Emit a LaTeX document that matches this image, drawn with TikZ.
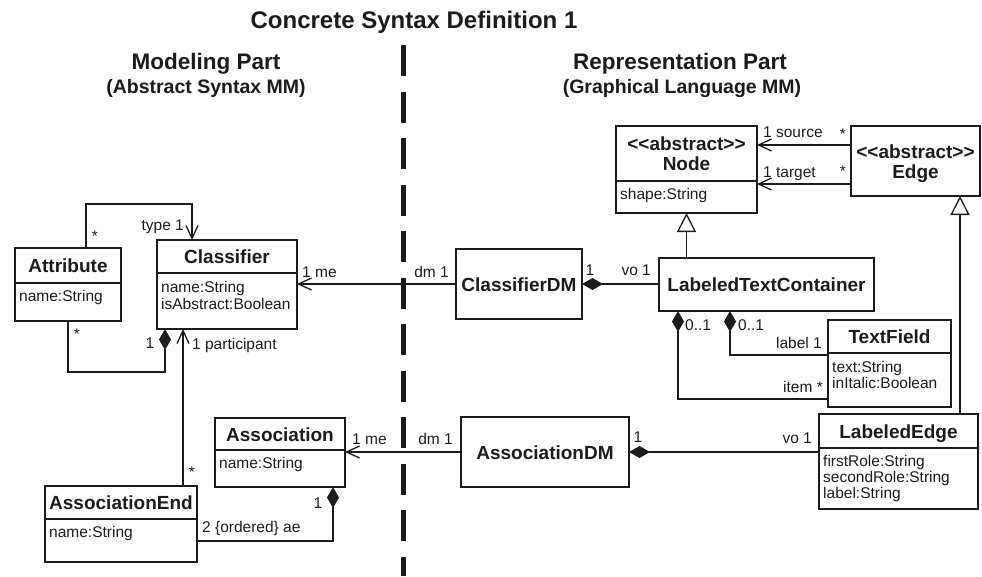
\documentclass[tikz,border=0pt]{standalone}
\usepackage{fontspec}
\setmainfont{Liberation Sans}
\usetikzlibrary{arrows.meta,calc}
\definecolor{ink}{HTML}{1C1C1C}

\tikzset{
  umlbox/.style={draw=ink, line width=1.3pt, anchor=north west, inner sep=0pt, outer sep=0pt},
  divider/.style={draw=ink, line width=1.3pt},
  cname/.style={font=\bfseries\fontsize{19}{21}\selectfont, text=ink, inner sep=0pt, anchor=base},
  attrtxt/.style={font=\fontsize{15.5}{17}\selectfont, text=ink, inner sep=0pt, anchor=base west},
  lbl/.style={font=\fontsize{15.5}{17}\selectfont, text=ink, inner sep=0pt, anchor=base},
  heading/.style={font=\bfseries\fontsize{22.5}{26}\selectfont, text=ink, inner sep=0pt, anchor=base},
  subheading/.style={font=\bfseries\fontsize{19.5}{22}\selectfont, text=ink, inner sep=0pt, anchor=base},
  conn/.style={draw=ink, line width=1.3pt},
  navarrow/.style={conn, -{Straight Barb[length=13pt,width=12pt]}},
  composition/.style={conn, -{Diamond[length=21pt,width=12pt,fill=ink]}},
  inherit/.style={conn, -{Triangle[open,length=19pt,width=19pt,fill=white]}},
}

\begin{document}
\begin{tikzpicture}[x=1pt,y=-1pt]
\useasboundingbox[fill=white] (0,0) rectangle (982,576);

% ---------- titles ----------
\node[font=\bfseries\fontsize{24}{28}\selectfont, text=ink, inner sep=0pt, anchor=base] (title) at (414,28) {Concrete Syntax Definition 1};
\node[heading] (modH) at (206,69) {Modeling Part};
\node[subheading] (modS) at (206,93.5) {(Abstract Syntax MM)};
\node[heading] (repH) at (680,69) {Representation Part};
\node[subheading] (repS) at (682,93.5) {(Graphical Language MM)};

% ---------- separator ----------
\coordinate (sepTop) at (403,45);
\coordinate (sepBot) at (403,576);
\draw[ink, line width=5pt, dash pattern=on 31pt off 15.5pt] (sepTop) -- (sepBot);

% ---------- modeling part classes ----------
\node[umlbox, minimum width=106pt, minimum height=73pt] (attr) at (15,248) {};
\draw[divider] ($(attr.north west)+(0,35)$) -- ($(attr.north east)+(0,35)$);
\node[cname] (attrN) at (68,272) {Attribute};
\node[attrtxt] (attrA) at (19,301) {name:String};

\node[umlbox, minimum width=140pt, minimum height=89pt] (cls) at (157,240) {};
\draw[divider] ($(cls.north west)+(0,33)$) -- ($(cls.north east)+(0,33)$);
\node[cname] (clsN) at (227,263) {Classifier};
\node[attrtxt] (clsA1) at (161,292.5) {name:String};
\node[attrtxt] (clsA2) at (161,309.5) {isAbstract:Boolean};

\node[umlbox, minimum width=130pt, minimum height=69pt] (asc) at (215,418) {};
\draw[divider] ($(asc.north west)+(0,32)$) -- ($(asc.north east)+(0,32)$);
\node[cname] (ascN) at (280,441) {Association};
\node[attrtxt] (ascA) at (219,468.5) {name:String};

\node[umlbox, minimum width=152pt, minimum height=76pt] (ae) at (45,486) {};
\draw[divider] ($(ae.north west)+(0,33)$) -- ($(ae.north east)+(0,33)$);
\node[cname] (aeN) at (121,509.5) {AssociationEnd};
\node[attrtxt] (aeA) at (49,537.5) {name:String};

% ---------- representation part classes ----------
\node[umlbox, minimum width=126pt, minimum height=70pt] (cdm) at (456,249) {};
\node[cname] (cdmN) at (519,291) {ClassifierDM};

\node[umlbox, minimum width=168pt, minimum height=70pt] (adm) at (461,417) {};
\node[cname] (admN) at (545,459) {AssociationDM};

\node[umlbox, minimum width=141pt, minimum height=87pt] (nd) at (616,126) {};
\draw[divider] ($(nd.north west)+(0,55)$) -- ($(nd.north east)+(0,55)$);
\node[cname] (ndS) at (686.5,150) {<{}<abstract>{}>};
\node[cname] (ndN) at (686.5,170) {Node};
\node[attrtxt] (ndA) at (620,199.5) {shape:String};

\node[umlbox, minimum width=129pt, minimum height=70pt] (edge) at (851,126) {};
\node[cname] (edgeS) at (915.5,158) {<{}<abstract>{}>};
\node[cname] (edgeN) at (915.5,178) {Edge};

\node[umlbox, minimum width=215pt, minimum height=53pt] (ltc) at (659,258) {};
\node[cname] (ltcN) at (766.5,291.5) {LabeledTextContainer};

\node[umlbox, minimum width=123pt, minimum height=87pt] (tf) at (828,320) {};
\draw[divider] ($(tf.north west)+(0,33)$) -- ($(tf.north east)+(0,33)$);
\node[cname] (tfN) at (889.5,343.5) {TextField};
\node[attrtxt] (tfA1) at (832,372.5) {text:String};
\node[attrtxt] (tfA2) at (832,388) {inItalic:Boolean};

\node[umlbox, minimum width=159pt, minimum height=95pt] (le) at (819,414) {};
\draw[divider] ($(le.north west)+(0,34)$) -- ($(le.north east)+(0,34)$);
\node[cname] (leN) at (898.5,438) {LabeledEdge};
\node[attrtxt] (leA1) at (823,466.5) {firstRole:String};
\node[attrtxt] (leA2) at (823,482.5) {secondRole:String};
\node[attrtxt] (leA3) at (823,498.5) {label:String};

% ---------- connectors: modeling part ----------
\draw[navarrow] ($(attr.north west)+(71,0)$) |- ($(cls.north west)+(35,-36)$) -- ($(cls.north west)+(35,0)$);
\draw[composition] (attr.south) |- ($(cls.south west)+(8,43)$) -- ($(cls.south west)+(8,0)$);
\draw[navarrow] ($(ae.north west)+(138,0)$) -- ($(cls.south west)+(26,0)$);
\draw[composition] ($(ae.north east)+(0,55)$) -| ($(asc.south east)+(-12,0)$);

% ---------- connectors: mapping ----------
\draw[navarrow] (cdm.west) -- (cdm.west -| cls.east);
\draw[navarrow] (adm.west) -- (adm.west -| asc.east);

% ---------- connectors: representation part ----------
\draw[composition] (cdm.east -| ltc.west) -- (cdm.east);
\draw[composition] (adm.east -| le.west) -- (adm.east);
\coordinate (srcEnd) at ($(edge.north west)+(0,19)$);
\coordinate (tgtEnd) at ($(edge.north west)+(0,58)$);
\draw[navarrow] (srcEnd) -- (srcEnd -| nd.east);
\draw[navarrow] (tgtEnd) -- (tgtEnd -| nd.east);
\draw[inherit] (nd.south |- ltc.north) -- (nd.south);
\coordinate (edgeGen) at ($(edge.south east)+(-20,0)$);
\draw[inherit] (edgeGen |- le.north) -- (edgeGen);
\draw[composition] ($(tf.north west)+(0,35)$) -| ($(ltc.south west)+(71,0)$);
\draw[composition] ($(tf.north west)+(0,79)$) -| ($(ltc.south west)+(19,0)$);

% ---------- role names and multiplicities ----------
\node[lbl, anchor=base east] (l1) at (184,230.5) {type 1};
\node[lbl] (l2) at (95,241) {*};
\node[lbl] (l3) at (77,339) {*};
\node[lbl] (l4) at (150,348.5) {1};
\node[lbl, anchor=base west] (l5) at (192,349.5) {1 participant};
\node[lbl, anchor=base west] (l6) at (302,277.5) {1 me};
\node[lbl, anchor=base east] (l7) at (449,277.5) {dm 1};
\node[lbl] (l8) at (590,275.5) {1};
\node[lbl, anchor=base east] (l9) at (651,275.5) {vo 1};
\node[lbl, anchor=base west] (l10) at (763,137.5) {1 source};
\node[lbl] (l11) at (843,139) {*};
\node[lbl, anchor=base west] (l12) at (763,177.5) {1 target};
\node[lbl] (l13) at (843,176) {*};
\node[lbl, anchor=base west] (l14) at (685,330.5) {0..1};
\node[lbl, anchor=base west] (l15) at (738,330.5) {0..1};
\node[lbl, anchor=base east] (l16) at (822,348.5) {label 1};
\node[lbl, anchor=base east] (l17) at (823,392.5) {item *};
\node[lbl] (l18) at (638,442) {1};
\node[lbl, anchor=base east] (l19) at (812,443.5) {vo 1};
\node[lbl, anchor=base west] (l20) at (352,444.5) {1 me};
\node[lbl, anchor=base east] (l21) at (453,444.5) {dm 1};
\node[lbl] (l22) at (192,477) {*};
\node[lbl] (l23) at (318,508.5) {1};
\node[lbl, anchor=base west] (l24) at (202,532.5) {2 \{ordered\} ae};
\end{tikzpicture}
\end{document}
